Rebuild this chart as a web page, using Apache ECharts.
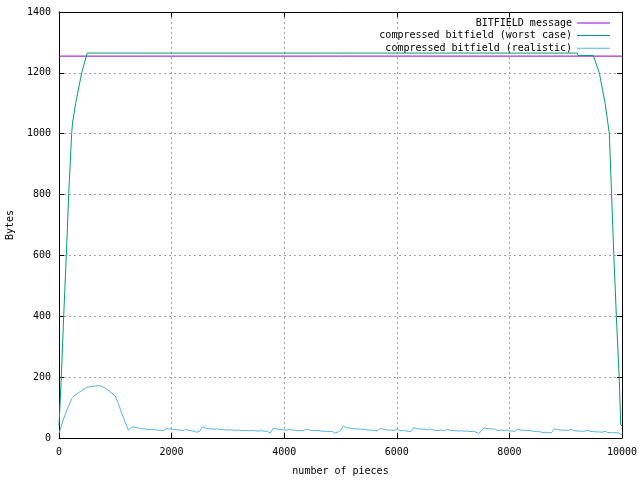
<!DOCTYPE html>
<html><head><meta charset="utf-8">
<script src="https://cdn.jsdelivr.net/npm/echarts@6/dist/echarts.min.js"></script>
<style>html,body{margin:0;padding:0;background:#fff}#c{width:640px;height:480px}</style>
</head><body><div id="c"></div>
<script>
const xTicks = [0, 2000, 4000, 6000, 8000, 10000];
const yTicks = [0, 200, 400, 600, 800, 1000, 1200, 1400];
const seriesNames = ['BITFIELD message', 'compressed bitfield (worst case)', 'compressed bitfield (realistic)'];

const bitfieldX = [0, 10000];
const bitfieldY = [1255, 1255];

const worstX = [0, 41, 83, 130, 172, 225, 240, 296, 403, 500, 9200, 9220, 9490, 9597, 9700, 9745, 9775, 9815, 9855, 9900, 9950, 9978, 10000];
const worstY = [40, 200, 400, 600, 800, 1000, 1035, 1100, 1200, 1265, 1265, 1257, 1257, 1200, 1100, 1040, 1000, 800, 600, 400, 200, 43, 40];

const realHeadX = [0, 48, 107, 166, 225, 284, 373, 462, 521, 639, 728, 817, 906, 995, 1054, 1113, 1172, 1232, 1260];
const realHeadY = [15, 43, 76, 103, 130, 141, 152, 163, 168, 171, 172, 165, 152, 139, 114, 81, 54, 26, 23];
const realTailStart = 1300, realTailStep = 50;
const realTailY = [37,35,33,31,30,29,28,29,27,26,25,24,31,30,29,28,27,26,25,28,25,24,22,19,23,
37,33,31,30,29,30,28,28,27,26,27,26,25,26,24,25,24,24,25,23,23,24,22,22,16,
31,30,29,28,26,26,28,26,25,25,24,25,29,26,25,24,25,23,22,22,21,22,16,19,24,
39,34,33,31,30,30,29,29,27,26,26,25,23,31,30,27,26,26,25,28,25,24,24,22,21,
34,31,30,29,29,27,30,26,25,25,26,24,29,25,24,24,23,24,22,23,21,22,20,15,22,
34,31,30,30,29,24,26,25,26,23,23,22,29,26,25,24,25,23,21,22,20,18,19,17,18,
30,28,26,26,25,26,28,24,23,23,22,23,25,21,21,20,20,19,22,18,18,17,18,15,10];

const realData = realHeadX.map((x, i) => [x, realHeadY[i]]);
realTailY.forEach((v, i) => realData.push([realTailStart + i * realTailStep, v]));

const colors = ['#9400d3', '#009e73', '#56b4e9'];
const font = 'DejaVu Sans Mono';
const gridLine = { show: true, lineStyle: { color: '#a0a0a0', type: [2, 3], width: 1 } };
const axLine = { show: true, onZero: false, lineStyle: { color: '#000', width: 1 } };
const tick = { show: true, inside: true, length: 5, lineStyle: { color: '#000' } };
const plain = v => String(v);

function legendFor(i) {
  return {
    data: [seriesNames[i]], right: 30, top: 18 + i * 12.6, align: 'right', padding: 0,
    icon: 'rect', itemWidth: 33, itemHeight: 1, itemGap: 0, selectedMode: false,
    textStyle: { fontFamily: font, fontSize: 10, color: '#000' }
  };
}

const chart = echarts.init(document.getElementById('c'), null, { renderer: 'canvas' });
chart.setOption({
  animation: false,
  backgroundColor: '#fff',
  color: colors,
  grid: { left: 59, right: 18, top: 12, bottom: 42, containLabel: false, outerBoundsMode: 'none' },
  legend: [legendFor(0), legendFor(1), legendFor(2)],
  xAxis: [{
    type: 'value', min: xTicks[0], max: xTicks[xTicks.length - 1], interval: 2000,
    axisLine: axLine, axisTick: tick,
    axisLabel: { fontFamily: font, fontSize: 10, color: '#000', margin: 9, formatter: plain },
    splitLine: gridLine,
    name: 'number of pieces', nameLocation: 'middle', nameGap: 28,
    nameTextStyle: { fontFamily: font, fontSize: 10, color: '#000' }
  }, {
    type: 'value', position: 'top', min: 0, max: 10000, interval: 2000,
    axisLine: axLine, axisTick: tick,
    axisLabel: { show: false }, splitLine: { show: false }
  }],
  yAxis: [{
    type: 'value', min: yTicks[0], max: yTicks[yTicks.length - 1], interval: 200,
    axisLine: axLine, axisTick: tick,
    axisLabel: { fontFamily: font, fontSize: 10, color: '#000', margin: 8, formatter: plain },
    splitLine: gridLine,
    name: 'Bytes', nameLocation: 'middle', nameGap: 44, nameRotate: 90,
    nameTextStyle: { fontFamily: font, fontSize: 10, color: '#000' }
  }, {
    type: 'value', position: 'right', min: 0, max: 1400, interval: 200,
    axisLine: axLine, axisTick: tick,
    axisLabel: { show: false }, splitLine: { show: false }
  }],
  series: [
    { name: seriesNames[0], type: 'line', showSymbol: false, symbol: 'none',
      data: bitfieldX.map((x, i) => [x, bitfieldY[i]]), lineStyle: { width: 1, color: colors[0] } },
    { name: seriesNames[1], type: 'line', showSymbol: false, symbol: 'none',
      data: worstX.map((x, i) => [x, worstY[i]]), lineStyle: { width: 1, color: colors[1] } },
    { name: seriesNames[2], type: 'line', showSymbol: false, symbol: 'none',
      data: realData, lineStyle: { width: 1, color: colors[2] } }
  ]
});
</script></body></html>
